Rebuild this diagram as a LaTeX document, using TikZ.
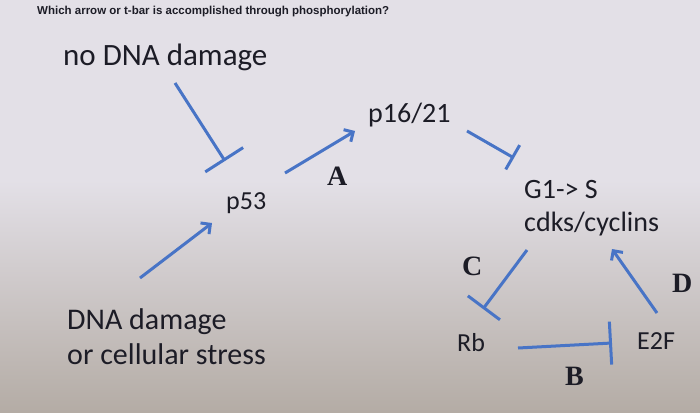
\documentclass[tikz,border=0pt]{standalone}
\usepackage{fontspec}
\setmainfont{Carlito}
\newfontfamily\titlefont{Liberation Sans}
\newfontfamily\labfont{Liberation Serif}
\usetikzlibrary{arrows.meta}
\definecolor{bgtop}{RGB}{227,224,231}
\definecolor{bgmid}{RGB}{218,214,218}
\definecolor{bgbot}{RGB}{180,172,165}
\definecolor{linkblue}{RGB}{72,116,198}
\definecolor{ink}{RGB}{28,28,38}
\tikzset{
  txt/.style={inner sep=0pt, anchor=base west, text=ink, font=\fontsize{28}{33}\selectfont},
  smalltxt/.style={txt, font=\fontsize{26}{31}\selectfont},
  bigtxt/.style={txt, font=\fontsize{31}{36}\selectfont},
  medtxt/.style={txt, font=\fontsize{30}{35}\selectfont, align=left},
  lab/.style={inner sep=0pt, anchor=base west, text=ink, font=\labfont\bfseries\fontsize{28}{30}\selectfont},
  titletxt/.style={inner sep=0pt, anchor=base west, text=ink, font=\titlefont\bfseries\fontsize{11.5}{13}\selectfont},
  link/.style={draw=linkblue, line width=3pt},
  act/.style={link, -{Straight Barb[length=7pt,width=14pt]}},
  inh/.style={link, -{Bar[width=#1]}},
}
\begin{document}
\begin{tikzpicture}[x=1pt,y=-1pt]
\fill[bgtop] (0,0) rectangle (700,412);
\shade[top color=bgtop, middle color=bgmid, bottom color=bgbot] (0,180) rectangle (700,412);
\useasboundingbox (0,0) rectangle (700,412);

\node[titletxt] (title) at (37,15) {Which arrow or t-bar is accomplished through phosphorylation?};
\node[bigtxt] (nodmg) at (63,65) {no DNA damage};
\node[smalltxt] (p53) at (226,209) {p53};
\node[txt] (p16) at (368,122) {p16/21};
\node[txt, align=left, anchor=north west] (g1) at (524,180) {G1-> S\\cdks/cyclins};
\node[smalltxt] (rb) at (457,351) {Rb};
\node[smalltxt] (e2f) at (637,349) {E2F};
\node[medtxt, anchor=north west] (dmg) at (67,308) {DNA damage\\or cellular stress};

\node[lab] (la) at (327,185) {A};
\node[lab] (lb) at (565,385) {B};
\node[lab] (lc) at (462,275) {C};
\node[lab] (ld) at (672,292) {D};

\coordinate (nodmg-out) at (175,83);
\coordinate (p53-top) at (225,161);
\coordinate (dmg-out) at (140,278);
\coordinate (p53-in) at (212,223);
\coordinate (p53-out) at (285,173);
\coordinate (p16-in) at (355,131);
\coordinate (p16-out) at (467,131);
\coordinate (g1-in) at (514,158);
\coordinate (g1-out) at (527,250);
\coordinate (rb-in) at (483,309);
\coordinate (e2f-out) at (657,313);
\coordinate (g1-in2) at (612,249);
\coordinate (rb-out) at (518,348);
\coordinate (e2f-in) at (612,343);

\draw[inh=45pt] (nodmg-out) -- (p53-top);
\draw[act] (dmg-out) -- (p53-in);
\draw[act] (p53-out) -- (p16-in);
\draw[inh=28pt] (p16-out) -- (g1-in);
\draw[inh=40pt] (g1-out) -- (rb-in);
\draw[act] (e2f-out) -- (g1-in2);
\draw[inh=43pt] (rb-out) -- (e2f-in);
\end{tikzpicture}
\end{document}
